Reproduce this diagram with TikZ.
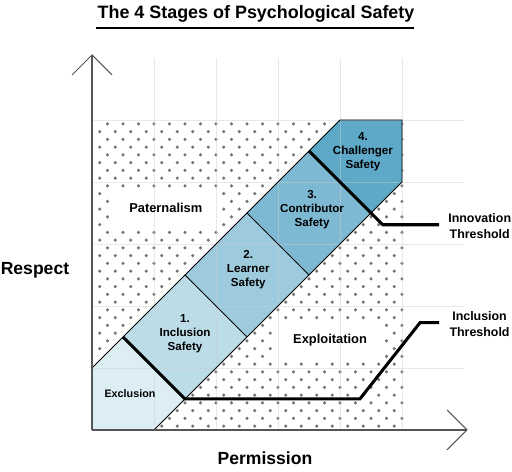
\documentclass[tikz,border=0pt]{standalone}
\usepackage{fontspec}
\setmainfont{Liberation Sans}
\usetikzlibrary{calc,arrows.meta,positioning}
\usepackage{xcolor}
\definecolor{exclblue}{HTML}{DCEDF4}
\definecolor{oneblue}{HTML}{BCDCE8}
\definecolor{twoblue}{HTML}{9DCBDD}
\definecolor{threeblue}{HTML}{7EB9D3}
\definecolor{fourblue}{HTML}{5EA8C8}
\definecolor{dotgray}{HTML}{747474}
\definecolor{axisgray}{HTML}{555555}

\begin{document}
\begin{tikzpicture}[x=1.86cm,y=1.86cm,
    gridline/.style={black!20,line width=0.8pt,opacity=0.45},
    axisline/.style={axisgray,line width=0.9pt,-{Straight Barb[length=17pt,width=34pt]}},
    zone/.style={draw=black,line width=0.7pt},
    threshold/.style={black,line width=2.6pt,line join=miter},
    stagelabel/.style={font=\bfseries\fontsize{9.9}{12}\selectfont,align=center},
    arealabel/.style={font=\bfseries\fontsize{11}{13}\selectfont},
    sidelabel/.style={font=\bfseries\fontsize{10.6}{14}\selectfont,align=center,anchor=west},
    axislabel/.style={font=\bfseries\fontsize{15}{18}\selectfont}]
    \useasboundingbox (-1.484,-0.677) rectangle (6.774,6.935);

    % dotted field
    \foreach \j in {0,...,39} {
        \pgfmathsetmacro{\yy}{0.0625+0.125*\j}
        \pgfmathsetmacro{\xs}{mod(\j,2)==0 ? 0.125 : 0.25}
        \foreach \i in {0,...,19}
            \fill[dotgray] ({\xs+0.25*\i},\yy) circle[radius=1.45pt];
    }
    \fill[white] (0.34,3.26) rectangle (2.03,3.90);
    \fill[white] (2.97,1.10) rectangle (4.69,1.77);

    % stages along the diagonal
    \coordinate (E1) at (0,0);
    \coordinate (E2) at (1,0);
    \coordinate (E3) at (0,1);
    \coordinate (A1) at (0.5,1.5);
    \coordinate (B1) at (1.5,0.5);
    \coordinate (A2) at (1.5,2.5);
    \coordinate (B2) at (2.5,1.5);
    \coordinate (A3) at (2.5,3.5);
    \coordinate (B3) at (3.5,2.5);
    \coordinate (A4) at (3.5,4.5);
    \coordinate (B4) at (4.5,3.5);
    \fill[exclblue] (E1)--(E2)--(B1)--(A1)--(E3)--cycle;
    \fill[oneblue] (A1)--(B1)--(B2)--(A2)--cycle;
    \fill[twoblue] (A2)--(B2)--(B3)--(A3)--cycle;
    \fill[threeblue] (A3)--(B3)--(B4)--(A4)--cycle;
    \fill[fourblue] (A4)--(B4)--(5,4)--(5,5)--(4,5)--cycle;

    \foreach \k in {1,...,5} {
        \draw[gridline] (\k,0) -- (\k,6);
        \draw[gridline] (0,\k) -- (6,\k);
    }

    \draw[zone] (E3)--(4,5)--(5,5)--(5,4)--(E2);
    \draw[zone] (A2)--(B2);
    \draw[zone] (A3)--(B3);

    % axes
    \draw[axisline] (E1) -- (0,6.06);
    \draw[axisline] (E1) -- (6.06,0);

    % thresholds
    \coordinate (inc3) at (4.32,0.5);
    \coordinate (inc4) at (5.29,1.73);
    \coordinate (inc5) at (5.6,1.73);
    \coordinate (inn2) at (4.69,3.31);
    \coordinate (inn3) at (5.6,3.31);
    \draw[threshold] (A1)--(B1)--(inc3)--(inc4)--(inc5);
    \draw[threshold] (A4)--(inn2)--(inn3);

    % labels
    \node[stagelabel,font=\bfseries\fontsize{9.2}{12}\selectfont] (excl) at (0.613,0.58) {Exclusion};
    \node[stagelabel] (one) at (1.5,1.55) {1.\\Inclusion\\Safety};
    \node[stagelabel] (two) at (2.52,2.58) {2.\\Learner\\Safety};
    \node[stagelabel] (three) at (3.55,3.55) {3.\\Contributor\\Safety};
    \node[stagelabel] (four) at (4.37,4.49) {4.\\Challenger\\Safety};
    \node[arealabel] (pat) at (1.19,3.58) {Paternalism};
    \node[arealabel] (expl) at (3.84,1.45) {Exploitation};
    \node[sidelabel] (innov) at (5.68,3.29) {Innovation\\Threshold};
    \node[sidelabel] (incl) at (5.70,1.71) {Inclusion\\Threshold};

    \node[axislabel] (respect) at (-0.92,2.58) {Respect};
    \node[axislabel] (perm) at (2.79,-0.45) {Permission};
    \node[axislabel,font=\bfseries\fontsize{15.3}{18}\selectfont] (title) at (2.645,6.71) {The 4 Stages of Psychological Safety};
    \draw[line width=1.8pt] (0.065,6.484) -- (5.19,6.484);
\end{tikzpicture}
\end{document}
